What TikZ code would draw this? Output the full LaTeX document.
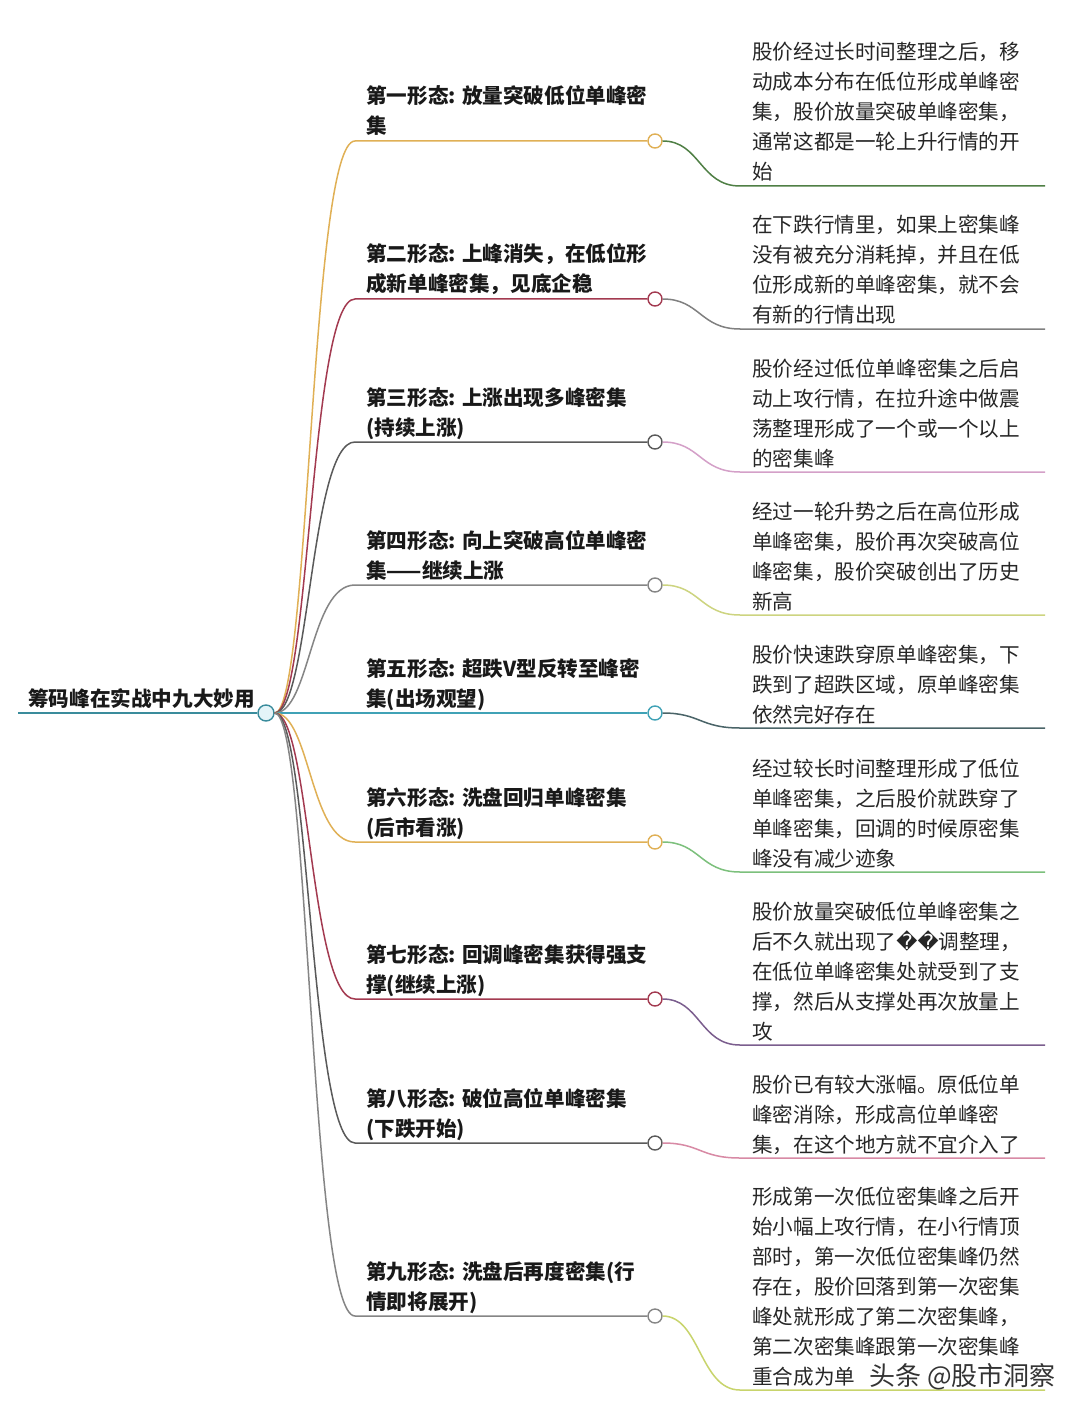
\documentclass[tikz,border=0pt]{standalone}
\usepackage{fontspec}
\setmainfont{Noto Sans CJK SC}
\newfontfamily\replfont{DejaVu Sans}
\usetikzlibrary{positioning}
\definecolor{rootteal}{HTML}{3A8C9C}
\definecolor{rootfill}{HTML}{E4F4F8}
\definecolor{gold}{HTML}{E0B055}
\definecolor{maroon}{HTML}{A33A50}
\definecolor{darkgrey}{HTML}{5A5A5A}
\definecolor{midgrey}{HTML}{858585}
\definecolor{teal}{HTML}{40A2B6}
\definecolor{twigA}{HTML}{4F7F45}
\definecolor{twigB}{HTML}{808080}
\definecolor{twigC}{HTML}{D4A0C8}
\definecolor{twigD}{HTML}{CDD480}
\definecolor{twigE}{HTML}{4A6468}
\definecolor{twigF}{HTML}{7CC07C}
\definecolor{twigG}{HTML}{7B5E8E}
\definecolor{twigH}{HTML}{D88AA5}
\definecolor{twigI}{HTML}{C8D46C}
\tikzset{
  bough/.style={line width=1.5pt},
  knot/.style={circle, draw, fill=white, line width=1.4pt, minimum size=14pt, inner sep=0pt},
  rootknot/.style={knot, draw=rootteal, fill=rootfill, minimum size=16pt},
  topic/.style={anchor=base west, inner sep=0pt, align=left, text=black!90, font=\bfseries\fontsize{20.6}{30}\selectfont},
  remark/.style={anchor=base west, inner sep=0pt, align=left, text=black!85, font=\fontsize{20.6}{30}\selectfont},
}

\begin{document}
\begin{tikzpicture}[x=1pt, y=-1pt]
			%%%%% START %%%%%
			\fill[white] (0,0) rectangle (1080,1412);
			\useasboundingbox (0,0) rectangle (1080,1412);
			
			\node[rootknot] (root) at (266,713) {};
			\coordinate (rootend) at (18,713);
			\draw[bough, rootteal] (rootend) -- (root);
			\node[topic] (title) at (28,706) {筹码峰在实战中九大妙用};
			
			\node[knot, draw=gold] (c1) at (655,141) {};
			\node[knot, draw=maroon] (c2) at (655,299) {};
			\node[knot, draw=darkgrey] (c3) at (655,442) {};
			\node[knot, draw=midgrey] (c4) at (655,585) {};
			\node[knot, draw=teal] (c5) at (655,713) {};
			\node[knot, draw=gold] (c6) at (655,842) {};
			\node[knot, draw=maroon] (c7) at (655,999) {};
			\node[knot, draw=darkgrey] (c8) at (655,1143) {};
			\node[knot, draw=midgrey] (c9) at (655,1316) {};
			
			\draw[bough, gold] (root) .. controls (310,713) and (310,141) .. (355,141) -- (c1);
			\draw[bough, maroon] (root) .. controls (310,713) and (310,299) .. (355,299) -- (c2);
			\draw[bough, darkgrey] (root) .. controls (310,713) and (310,442) .. (355,442) -- (c3);
			\draw[bough, midgrey] (root) .. controls (310,713) and (310,585) .. (355,585) -- (c4);
			\draw[bough, teal] (root) -- (c5);
			\draw[bough, gold] (root) .. controls (310,713) and (310,842) .. (355,842) -- (c6);
			\draw[bough, maroon] (root) .. controls (310,713) and (310,999) .. (355,999) -- (c7);
			\draw[bough, darkgrey] (root) .. controls (310,713) and (310,1143) .. (355,1143) -- (c8);
			\draw[bough, midgrey] (root) .. controls (310,713) and (310,1316) .. (355,1316) -- (c9);
			
			% base = last line
			\node[topic] (t1) at (366,134) {第一形态: 放量突破低位单峰密\\集};
			\node[topic] (t2) at (366,292) {第二形态: 上峰消失，在低位形\\成新单峰密集，见底企稳};
			\node[topic] (t3) at (366,435) {第三形态: 上涨出现多峰密集\\(持续上涨)};
			\node[topic] (t4) at (366,578) {第四形态: 向上突破高位单峰密\\集——继续上涨};
			\node[topic] (t5) at (366,706) {第五形态: 超跌V型反转至峰密\\集(出场观望)};
			\node[topic] (t6) at (366,835) {第六形态: 洗盘回归单峰密集\\(后市看涨)};
			\node[topic] (t7) at (366,992) {第七形态: 回调峰密集获得强支\\撑(继续上涨)};
			\node[topic] (t8) at (366,1136) {第八形态: 破位高位单峰密集\\(下跌开始)};
			\node[topic] (t9) at (366,1309) {第九形态: 洗盘后再度密集(行\\情即将展开)};
			
			\coordinate (e1) at (1045,186);
			\coordinate (e2) at (1045,329);
			\coordinate (e3) at (1045,472);
			\coordinate (e4) at (1045,615);
			\coordinate (e5) at (1045,728);
			\coordinate (e6) at (1045,872);
			\coordinate (e7) at (1045,1045);
			\coordinate (e8) at (1045,1158);
			\coordinate (e9) at (1045,1390);
			
			\draw[bough, twigA] (c1) .. controls (700,141) and (700,186) .. (740,186) -- (e1);
			\draw[bough, twigB] (c2) .. controls (700,299) and (700,329) .. (740,329) -- (e2);
			\draw[bough, twigC] (c3) .. controls (700,442) and (700,472) .. (740,472) -- (e3);
			\draw[bough, twigD] (c4) .. controls (700,585) and (700,615) .. (740,615) -- (e4);
			\draw[bough, twigE] (c5) .. controls (700,713) and (700,728) .. (740,728) -- (e5);
			\draw[bough, twigF] (c6) .. controls (700,842) and (700,872) .. (740,872) -- (e6);
			\draw[bough, twigG] (c7) .. controls (700,999) and (700,1045) .. (740,1045) -- (e7);
			\draw[bough, twigH] (c8) .. controls (700,1143) and (700,1158) .. (740,1158) -- (e8);
			\draw[bough, twigI] (c9) .. controls (700,1316) and (700,1390) .. (740,1390) -- (e9);
			
			\node[remark] (d1) at (752,180) {股价经过长时间整理之后，移\\动成本分布在低位形成单峰密\\集，股价放量突破单峰密集，\\通常这都是一轮上升行情的开\\始};
			\node[remark] (d2) at (752,323) {在下跌行情里，如果上密集峰\\没有被充分消耗掉，并且在低\\位形成新的单峰密集，就不会\\有新的行情出现};
			\node[remark] (d3) at (752,466) {股价经过低位单峰密集之后启\\动上攻行情，在拉升途中做震\\荡整理形成了一个或一个以上\\的密集峰};
			\node[remark] (d4) at (752,609) {经过一轮升势之后在高位形成\\单峰密集，股价再次突破高位\\峰密集，股价突破创出了历史\\新高};
			\node[remark] (d5) at (752,722) {股价快速跌穿原单峰密集，下\\跌到了超跌区域，原单峰密集\\依然完好存在};
			\node[remark] (d6) at (752,866) {经过较长时间整理形成了低位\\单峰密集，之后股价就跌穿了\\单峰密集，回调的时候原密集\\峰没有减少迹象};
			\node[remark] (d7) at (752,1039) {股价放量突破低位单峰密集之\\后不久就出现了{\replfont\symbol{"FFFD}\symbol{"FFFD}}调整理，\\在低位单峰密集处就受到了支\\撑，然后从支撑处再次放量上\\攻};
			\node[remark] (d8) at (752,1152) {股价已有较大涨幅。原低位单\\峰密消除，形成高位单峰密\\集，在这个地方就不宜介入了};
			\node[remark] (d9) at (752,1384) {形成第一次低位密集峰之后开\\始小幅上攻行情，在小行情顶\\部时，第一次低位密集峰仍然\\存在，股价回落到第一次密集\\峰处就形成了第二次密集峰，\\第二次密集峰跟第一次密集峰\\重合成为单};
			
			\node[anchor=base east, inner sep=0pt, text=black!80, font=\fontsize{26}{30}\selectfont] (mark) at (1056,1385) {头条 @股市洞察};
			%%%%% END %%%%%
\end{tikzpicture}
\end{document}
